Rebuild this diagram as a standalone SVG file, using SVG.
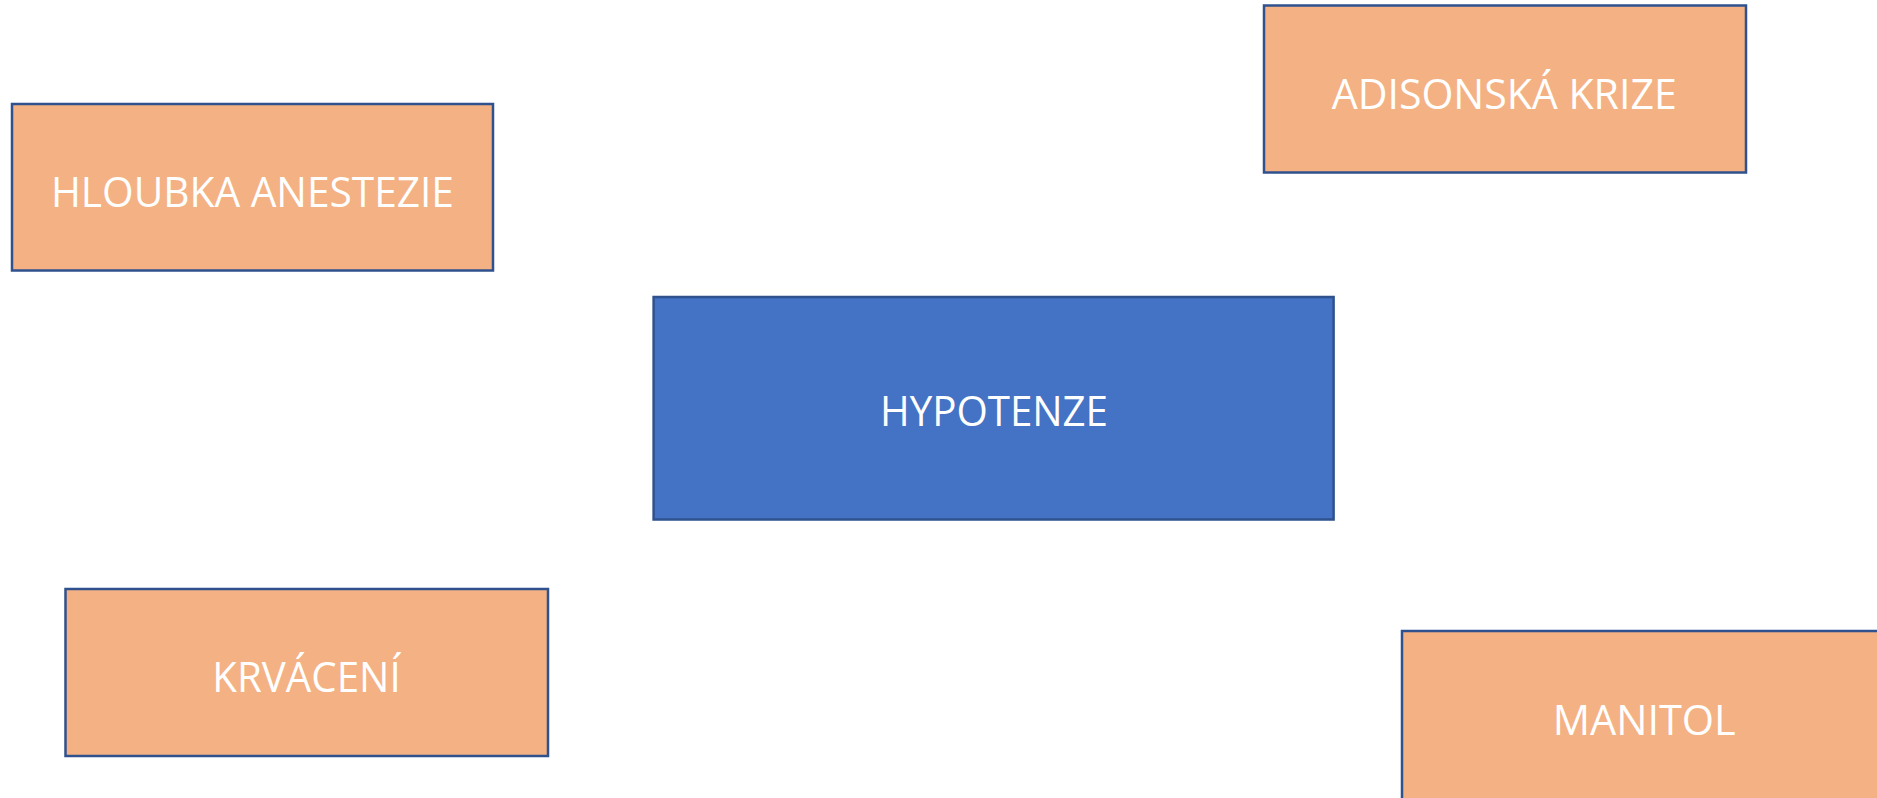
<svg xmlns="http://www.w3.org/2000/svg" width="1877" height="798" viewBox="0 0 1877 798">
  <style>
    .box { stroke: #2F528F; stroke-width: 2.5; }
    .cause { fill: #F4B183; }
    .main { fill: #4472C4; }
    .label { fill: #FFFFFF; font-family: "Open Sans", "Liberation Sans", sans-serif; font-size: 42px; text-anchor: middle; }
  </style>
  <rect width="1877" height="798" fill="#FFFFFF"/>
  <g id="connectors"></g>
  <g id="hloubka-anestezie">
    <rect class="box cause" x="12" y="104" width="481" height="166.5"/>
    <text class="label" x="252.4" y="206.7" textLength="403" lengthAdjust="spacingAndGlyphs">HLOUBKA ANESTEZIE</text>
  </g>
  <g id="adisonska-krize">
    <rect class="box cause" x="1264" y="5.5" width="482" height="167"/>
    <text class="label" x="1504.2" y="108.7" textLength="345" lengthAdjust="spacingAndGlyphs">ADISONSKÁ KRIZE</text>
  </g>
  <g id="hypotenze">
    <rect class="box main" x="653.6" y="297" width="680" height="222.5"/>
    <text class="label" x="994" y="426" textLength="228" lengthAdjust="spacingAndGlyphs">HYPOTENZE</text>
  </g>
  <g id="krvaceni">
    <rect class="box cause" x="65.5" y="589" width="482.5" height="167"/>
    <text class="label" x="306.5" y="692.3" textLength="188.4" lengthAdjust="spacingAndGlyphs">KRVÁCENÍ</text>
  </g>
  <g id="manitol">
    <rect class="box cause" x="1402" y="631" width="490" height="180"/>
    <text class="label" x="1644.2" y="735" textLength="183" lengthAdjust="spacingAndGlyphs">MANITOL</text>
  </g>
</svg>
